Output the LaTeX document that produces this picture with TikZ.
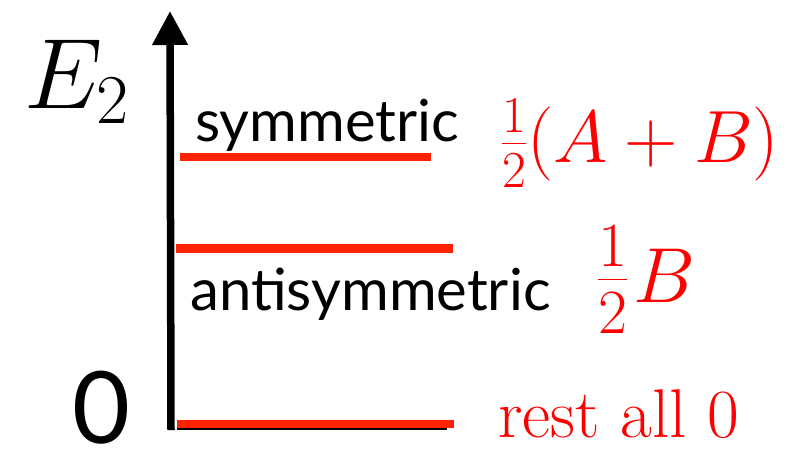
\RequirePackage{fix-cm}
\documentclass[tikz,border=0pt]{standalone}
\usepackage{fontspec}
\newfontfamily\gsans{Lato}
\usetikzlibrary{arrows.meta}
\definecolor{linered}{RGB}{255,34,0}
\tikzset{
  level/.style={draw=linered,line width=8.5pt},
  lbl/.style={inner sep=0pt,anchor=base west},
  sanslbl/.style={lbl,font=\gsans\fontsize{58}{58}\selectfont},
  redlbl/.style={lbl,text=red},
}
\begin{document}
\begin{tikzpicture}[x=1pt,y=-1pt]
\useasboundingbox (0,0) rectangle (786,450);
% axis
\coordinate (axb) at (171,430);
\coordinate (axt) at (170,11);
\draw[line width=7.5pt,-{Triangle[width=34pt,length=34pt]}] (axb) -- (axt);
% levels
\coordinate (s1) at (180,157); \coordinate (s2) at (431,157);
\coordinate (a1) at (176,248.5); \coordinate (a2) at (453,248.5);
\coordinate (z1) at (177,424); \coordinate (z2) at (454,424);
\coordinate (k1) at (177,428.5); \coordinate (k2) at (447,428.5);
\draw[line width=3pt] (k1) -- (k2);
\draw[level] (s1) -- (s2);
\draw[level] (a1) -- (a2);
\draw[level] (z1) -- (z2);
% labels
\node[lbl,font=\fontsize{100}{100}\selectfont] (E) at (24,108) {$E_2$};
\node[sanslbl] (sym) at (195,141) {symmetric};
\node[sanslbl] (anti) at (190,310) {antisymmetric};
\node[inner sep=0pt,anchor=base,font=\gsans\fontsize{100}{100}\selectfont] (zero) at (101,443) {0};
\node[redlbl,font=\fontsize{74}{74}\selectfont] (ab) at (501,162) {$\frac12(A+B)$};
\node[redlbl] (b) at (597,302) {{\fontsize{90}{90}\selectfont$\frac12$}\kern5pt{\fontsize{78}{78}\selectfont$B$}};
\node[redlbl,font=\fontsize{69}{69}\selectfont] (rest) at (498,437) {rest all 0};
\end{tikzpicture}
\end{document}
